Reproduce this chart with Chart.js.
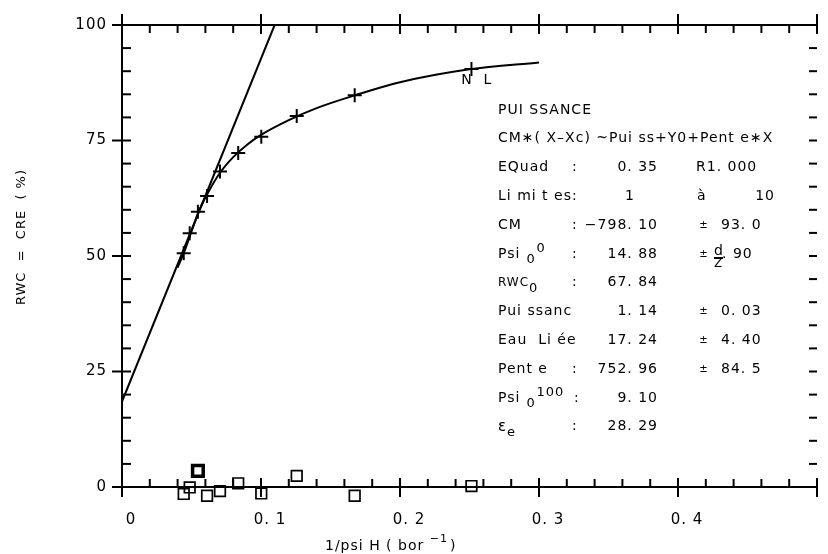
<!DOCTYPE html>
<html>
<head>
<meta charset="utf-8">
<script src="https://cdn.jsdelivr.net/npm/chart.js@4.4.1/dist/chart.umd.min.js"></script>
<style>
  html, body { margin: 0; padding: 0; background: #fff; }
</style>
</head>
<body>
<canvas id="chart" width="828" height="554"></canvas>
<script>
// measured points : 1/psi (bar-1) and RWC (%)
const invPsi = [0.0444, 0.0487, 0.0546, 0.0612, 0.0705, 0.0836, 0.1002, 0.1257, 0.1674, 0.2514];
const rwc = [50.6, 54.9, 59.6, 63.0, 68.3, 72.3, 75.8, 80.3, 84.8, 90.5];
const residuals = [-1.5, -0.1, 3.5, -1.9, -0.9, 0.8, -1.4, 2.4, -1.9, 0.2];

// fitted curve
const fitX = [0.040, 0.0444, 0.050, 0.055, 0.061, 0.070, 0.080, 0.090, 0.100, 0.120, 0.140, 0.170, 0.200, 0.250, 0.300];
const fitY = [47.5, 50.6, 55.3, 59.5, 63.2, 67.8, 71.4, 74.1, 76.2, 79.4, 82.0, 85.0, 87.6, 90.4, 91.9];

// straight line (Eau liee + Pente * X)
const lineX = [0, 0.1098];
const lineY = [18.5, 100];

const xTicks = [0, 0.1, 0.2, 0.3, 0.4];
const xTickLabels = ['0', '0. 1', '0. 2', '0. 3', '0. 4'];
const yTicks = [0, 25, 50, 75, 100];
const yTickLabels = ['0', '25', '50', '75', '100'];

const squareWidths = [1.7, 1.7, 3.5, 1.7, 1.7, 1.7, 1.7, 1.7, 1.7, 1.7];

const toPoints = (xs, ys) => xs.map((x, i) => ({ x, y: ys[i] }));

const FONT = '"DejaVu Sans", sans-serif';

const plotterFrame = {
  id: 'plotterFrame',
  afterDraw(chart) {
    const ctx = chart.ctx;
    const xs = chart.scales.x;
    const ys = chart.scales.y;
    const a = chart.chartArea;
    ctx.save();
    ctx.strokeStyle = '#000';
    ctx.fillStyle = '#000';
    ctx.lineWidth = 2;
    ctx.lineCap = 'butt';

    const seg = (x1, y1, x2, y2) => {
      ctx.beginPath();
      ctx.moveTo(x1, y1);
      ctx.lineTo(x2, y2);
      ctx.stroke();
    };

    // axis lines
    seg(a.left, a.top, a.left, a.bottom);
    seg(a.left, a.bottom, a.right, a.bottom);
    seg(a.left, a.top, a.right, a.top);

    // x ticks (top and bottom)
    for (let k = 0; k <= 25; k++) {
      const px = xs.getPixelForValue(k * 0.02);
      if (k % 5 === 0) {
        seg(px, a.bottom + 10, px, a.bottom - 9);
        seg(px, a.top - 11, px, a.top + 9);
      } else {
        seg(px, a.bottom, px, a.bottom - 8);
        seg(px, a.top, px, a.top + 8);
      }
    }
    // y ticks (left and right)
    for (let k = 0; k <= 20; k++) {
      const py = ys.getPixelForValue(k * 5);
      if (k % 5 === 0) {
        seg(a.left - 10, py, a.left + 9, py);
      } else {
        seg(a.left, py, a.left + 9, py);
      }
      if (k > 0 && k < 20) seg(a.right - 8, py, a.right, py);
    }

    ctx.letterSpacing = '1px';
    ctx.font = '15px ' + FONT;
    ctx.textBaseline = 'middle';

    // tick labels
    ctx.textAlign = 'right';
    yTicks.forEach((v, i) => ctx.fillText(yTickLabels[i], a.left - 15, ys.getPixelForValue(v)));
    ctx.textAlign = 'center';
    xTicks.forEach((v, i) => ctx.fillText(xTickLabels[i], xs.getPixelForValue(v) + 9, 520));

    // axis titles
    ctx.font = '14px ' + FONT;
    ctx.textAlign = 'left';
    let tx = 325;
    ctx.fillText('1/psi H ( bor ', tx, 546);
    tx += ctx.measureText('1/psi H ( bor ').width;
    ctx.font = '11px ' + FONT;
    ctx.fillText('\u22121', tx, 539);
    tx += ctx.measureText('\u22121').width + 2;
    ctx.font = '14px ' + FONT;
    ctx.fillText(')', tx, 546);

    ctx.save();
    ctx.translate(22, 237);
    ctx.rotate(-Math.PI / 2);
    ctx.textAlign = 'center';
    ctx.font = '13px ' + FONT;
    ctx.fillText('RWC  =  CRE  ( %)', 0, 0);
    ctx.restore();

    // N L label near last point
    ctx.font = '14px ' + FONT;
    ctx.textAlign = 'center';
    ctx.fillText('N', 467, 80);
    ctx.fillText('L', 488, 80);

    // fit summary block
    const rowY = i => 110 + i * 28.8;
    const put = (s, x, y, align, size) => {
      ctx.font = (size || 14) + 'px ' + FONT;
      ctx.textAlign = align || 'left';
      ctx.fillText(s, x, y);
      return ctx.measureText(s).width;
    };
    const L = 498, COLON = 572, VAL = 658, PM = 704, ERR = 721;

    put('PUI SSANCE', L, rowY(0));
    put('CM\u2217( X\u2013Xc) ~Pui ss+Y0+Pent e\u2217X', L, rowY(1));

    put('EQuad', L, rowY(2)); put(':', COLON, rowY(2));
    put('0. 35', VAL, rowY(2), 'right'); put('R1. 000', 696, rowY(2));

    put('Li mi t es:', L, rowY(3)); put('1', 630, rowY(3), 'center');
    put('\u00e0', 697, rowY(3)); put('10', 775, rowY(3), 'right');

    put('CM', L, rowY(4)); put(':', COLON, rowY(4));
    put('\u2212798. 10', VAL, rowY(4), 'right');
    put('\u00b1', PM, rowY(4), 'center', 10); put('93. 0', ERR, rowY(4));

    let w = put('Psi', L, rowY(5));
    put('0', L + w + 6, rowY(5) + 6, 'left', 13);
    put('0', L + w + 16, rowY(5) - 5, 'left', 13);
    put(':', COLON, rowY(5)); put('14. 88', VAL, rowY(5), 'right');
    put('\u00b1', PM, rowY(5), 'center', 10);
    put('d', 714, rowY(5) - 3, 'left', 14);
    seg(714, rowY(5) + 4, 723, rowY(5) + 4);
    put('Z', 714, rowY(5) + 10, 'left', 12);
    put('. 90', 722, rowY(5));

    w = put('RWC', L, rowY(6), 'left', 12);
    put('0', L + w, rowY(6) + 6, 'left', 13);
    put(':', COLON, rowY(6)); put('67. 84', VAL, rowY(6), 'right');

    put('Pui ssanc', L, rowY(7)); put('1. 14', VAL, rowY(7), 'right');
    put('\u00b1', PM, rowY(7), 'center', 10); put('0. 03', ERR, rowY(7));

    put('Eau  Li \u00e9e', L, rowY(8)); put('17. 24', VAL, rowY(8), 'right');
    put('\u00b1', PM, rowY(8), 'center', 10); put('4. 40', ERR, rowY(8));

    put('Pent e', L, rowY(9)); put(':', COLON, rowY(9));
    put('752. 96', VAL, rowY(9), 'right');
    put('\u00b1', PM, rowY(9), 'center', 10); put('84. 5', ERR, rowY(9));

    w = put('Psi', L, rowY(10));
    put('0', L + w + 6, rowY(10) + 6, 'left', 13);
    put('100', L + w + 16, rowY(10) - 5, 'left', 13);
    put(':', COLON + 2, rowY(10)); put('9. 10', VAL, rowY(10), 'right');

    w = put('\u03b5', L, rowY(11), 'left', 15);
    put('e', L + w, rowY(11) + 6, 'left', 13);
    put(':', COLON, rowY(11)); put('28. 29', VAL, rowY(11), 'right');

    ctx.restore();
  }
};

new Chart(document.getElementById('chart'), {
  type: 'scatter',
  data: {
    datasets: [
      {
        label: 'ajustement',
        data: toPoints(fitX, fitY),
        showLine: true,
        pointRadius: 0,
        borderColor: '#000',
        borderWidth: 2,
        cubicInterpolationMode: 'monotone'
      },
      {
        label: 'droite',
        data: toPoints(lineX, lineY),
        showLine: true,
        pointRadius: 0,
        borderColor: '#000',
        borderWidth: 2
      },
      {
        label: 'RWC',
        data: toPoints(invPsi, rwc),
        pointStyle: 'cross',
        pointRadius: 7,
        pointBorderWidth: 2,
        borderColor: '#000'
      },
      {
        label: 'residus',
        data: toPoints(invPsi, residuals),
        pointStyle: 'rect',
        pointRadius: 7.5,
        pointBorderWidth: squareWidths,
        borderColor: '#000',
        backgroundColor: 'rgba(255,255,255,0)',
        clip: false
      }
    ]
  },
  options: {
    responsive: false,
    animation: false,
    layout: { padding: { left: 122, top: 25, right: 0, bottom: 67 } },
    scales: {
      x: { type: 'linear', min: 0, max: 0.5, display: false },
      y: { type: 'linear', min: 0, max: 100, display: false }
    },
    plugins: {
      legend: { display: false },
      tooltip: { enabled: false }
    }
  },
  plugins: [plotterFrame]
});
</script>
</body>
</html>
